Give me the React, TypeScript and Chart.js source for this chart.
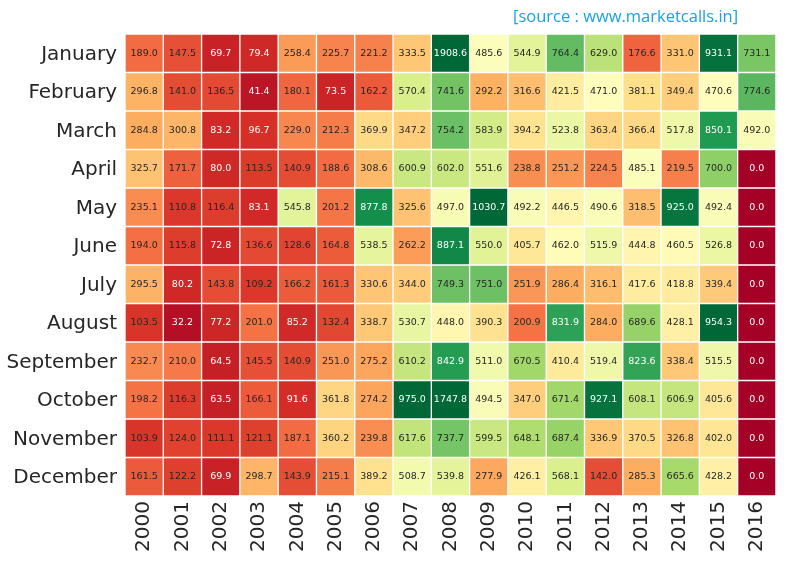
import { useEffect, useRef } from "react";
import { Chart, registerables } from "chart.js";

Chart.register(...registerables);

const years = ["2000", "2001", "2002", "2003", "2004", "2005", "2006", "2007", "2008", "2009", "2010", "2011", "2012", "2013", "2014", "2015", "2016"];
const months = ["January", "February", "March", "April", "May", "June", "July", "August", "September", "October", "November", "December"];

const january = [189.0, 147.5, 69.7, 79.4, 258.4, 225.7, 221.2, 333.5, 1908.6, 485.6, 544.9, 764.4, 629.0, 176.6, 331.0, 931.1, 731.1];
const february = [296.8, 141.0, 136.5, 41.4, 180.1, 73.5, 162.2, 570.4, 741.6, 292.2, 316.6, 421.5, 471.0, 381.1, 349.4, 470.6, 774.6];
const march = [284.8, 300.8, 83.2, 96.7, 229.0, 212.3, 369.9, 347.2, 754.2, 583.9, 394.2, 523.8, 363.4, 366.4, 517.8, 850.1, 492.0];
const april = [325.7, 171.7, 80.0, 113.5, 140.9, 188.6, 308.6, 600.9, 602.0, 551.6, 238.8, 251.2, 224.5, 485.1, 219.5, 700.0, 0.0];
const may = [235.1, 110.8, 116.4, 83.1, 545.8, 201.2, 877.8, 325.6, 497.0, 1030.7, 492.2, 446.5, 490.6, 318.5, 925.0, 492.4, 0.0];
const june = [194.0, 115.8, 72.8, 136.6, 128.6, 164.8, 538.5, 262.2, 887.1, 550.0, 405.7, 462.0, 515.9, 444.8, 460.5, 526.8, 0.0];
const july = [295.5, 80.2, 143.8, 109.2, 166.2, 161.3, 330.6, 344.0, 749.3, 751.0, 251.9, 286.4, 316.1, 417.6, 418.8, 339.4, 0.0];
const august = [103.5, 32.2, 77.2, 201.0, 85.2, 132.4, 338.7, 530.7, 448.0, 390.3, 200.9, 831.9, 284.0, 689.6, 428.1, 954.3, 0.0];
const september = [232.7, 210.0, 64.5, 145.5, 140.9, 251.0, 275.2, 610.2, 842.9, 511.0, 670.5, 410.4, 519.4, 823.6, 338.4, 515.5, 0.0];
const october = [198.2, 116.3, 63.5, 166.1, 91.6, 361.8, 274.2, 975.0, 1747.8, 494.5, 347.0, 671.4, 927.1, 608.1, 606.9, 405.6, 0.0];
const november = [103.9, 124.0, 111.1, 121.1, 187.1, 360.2, 239.8, 617.6, 737.7, 599.5, 648.1, 687.4, 336.9, 370.5, 326.8, 402.0, 0.0];
const december = [161.5, 122.2, 69.9, 298.7, 143.9, 215.1, 389.2, 508.7, 539.8, 277.9, 426.1, 568.1, 142.0, 285.3, 665.6, 428.2, 0.0];

const monthValues = [january, february, march, april, may, june, july, august, september, october, november, december];

const sourceText = "[source : www.marketcalls.in]";

// matplotlib RdYlGn control points
const RDYLGN = [
  [0.6470588235294118, 0.0, 0.14901960784313725],
  [0.8431372549019608, 0.18823529411764706, 0.15294117647058825],
  [0.9568627450980393, 0.42745098039215684, 0.2627450980392157],
  [0.9921568627450981, 0.6823529411764706, 0.3803921568627451],
  [0.996078431372549, 0.8784313725490196, 0.5450980392156862],
  [1.0, 1.0, 0.7490196078431373],
  [0.8509803921568627, 0.9372549019607843, 0.5450980392156862],
  [0.6509803921568628, 0.8509803921568627, 0.41568627450980394],
  [0.4, 0.7411764705882353, 0.38823529411764707],
  [0.10196078431372549, 0.596078431372549, 0.3137254901960784],
  [0.0, 0.40784313725490196, 0.21568627450980393],
];

function percentile(arr: number[], p: number) {
  const s = [...arr].sort((a, b) => a - b);
  const idx = (p / 100) * (s.length - 1);
  const lo = Math.floor(idx);
  const hi = Math.min(s.length - 1, lo + 1);
  return s[lo] + (s[hi] - s[lo]) * (idx - lo);
}

const allValues = monthValues.flat();
const vmin = percentile(allValues, 2);
const vmax = percentile(allValues, 98);

function cmapRGB(v: number) {
  let t = (v - vmin) / (vmax - vmin);
  t = Math.max(0, Math.min(1, t));
  const idx = Math.min(255, Math.floor(t * 256));
  const x = idx / 255;
  const seg = x * 10;
  const i = Math.min(9, Math.floor(seg));
  const f = seg - i;
  const a = RDYLGN[i];
  const b = RDYLGN[i + 1];
  return [a[0] + (b[0] - a[0]) * f, a[1] + (b[1] - a[1]) * f, a[2] + (b[2] - a[2]) * f];
}

function cellColor(v: number) {
  const [r, g, b] = cmapRGB(v);
  return `rgb(${Math.round(r * 255)},${Math.round(g * 255)},${Math.round(b * 255)})`;
}

function textColor(v: number) {
  const [r, g, b] = cmapRGB(v);
  const l = (Math.max(r, g, b) + Math.min(r, g, b)) / 2;
  return l > 0.5 ? "#262626" : "#ffffff";
}

const labelPlugin = {
  id: "cellLabels",
  afterDatasetsDraw(chart: any) {
    const ctx = chart.ctx;
    ctx.save();
    ctx.font = '9.5px "DejaVu Sans"';
    ctx.textAlign = "center";
    ctx.textBaseline = "middle";
    monthValues.forEach((row, i) => {
      const meta = chart.getDatasetMeta(i);
      meta.data.forEach((el: any, j: number) => {
        const c = el.getCenterPoint();
        ctx.fillStyle = textColor(row[j]);
        ctx.fillText(row[j].toFixed(1), c.x, c.y);
      });
    });
    ctx.restore();
  },
  afterDraw(chart: any) {
    const ctx = chart.ctx;
    ctx.save();
    ctx.font = '16.5px "Open Sans"';
    ctx.fillStyle = "#1ba1e2";
    ctx.textAlign = "left";
    ctx.textBaseline = "middle";
    ctx.fillText(sourceText, 513, 17);
    ctx.restore();
  },
};

export default function App() {
  const ref = useRef<HTMLCanvasElement>(null);
  useEffect(() => {
    if (!ref.current) return;
    const chart = new Chart(ref.current, {
      type: "bar",
      data: {
        labels: years,
        datasets: monthValues.map((row, i) => ({
          label: months[i],
          data: row.map(() => 1),
          backgroundColor: row.map((v) => cellColor(v)),
          borderColor: "#ffffff",
          borderWidth: 1,
          borderSkipped: false,
          barPercentage: 1,
          categoryPercentage: 1,
        })),
      },
      options: {
        animation: false,
        responsive: false,
        devicePixelRatio: 1,
        layout: { padding: { top: 34, right: 7, left: 0, bottom: 0 } },
        plugins: { legend: { display: false }, tooltip: { enabled: false } },
        scales: {
          x: {
            type: "category",
            stacked: true,
            grid: { display: false, drawTicks: false },
            border: { display: false },
            ticks: {
              minRotation: 90,
              maxRotation: 90,
              autoSkip: false,
              padding: 5,
              color: "#262626",
              font: { family: "DejaVu Sans", size: 20 },
            },
            afterFit: (s: any) => {
              s.height = 86;
            },
          },
          y: {
            type: "linear",
            stacked: true,
            reverse: true,
            min: 0,
            max: 12,
            grid: { display: false, drawTicks: false },
            border: { display: false },
            afterBuildTicks: (s: any) => {
              s.ticks = months.map((_, i) => ({ value: i + 0.5 }));
            },
            ticks: {
              autoSkip: false,
              padding: 8,
              labelOffset: 1.5,
              color: "#262626",
              font: { family: "DejaVu Sans", size: 20 },
              callback: (v: any) => months[Math.floor(Number(v))],
            },
            afterFit: (s: any) => {
              s.width = 125;
            },
          },
        },
      },
      plugins: [labelPlugin],
    } as any);
    return () => chart.destroy();
  }, []);
  return (
    <div style={{ position: "fixed", left: 0, top: 0, width: 786, height: 582, background: "#fff" }}>
      <canvas ref={ref} width={786} height={582} />
    </div>
  );
}
